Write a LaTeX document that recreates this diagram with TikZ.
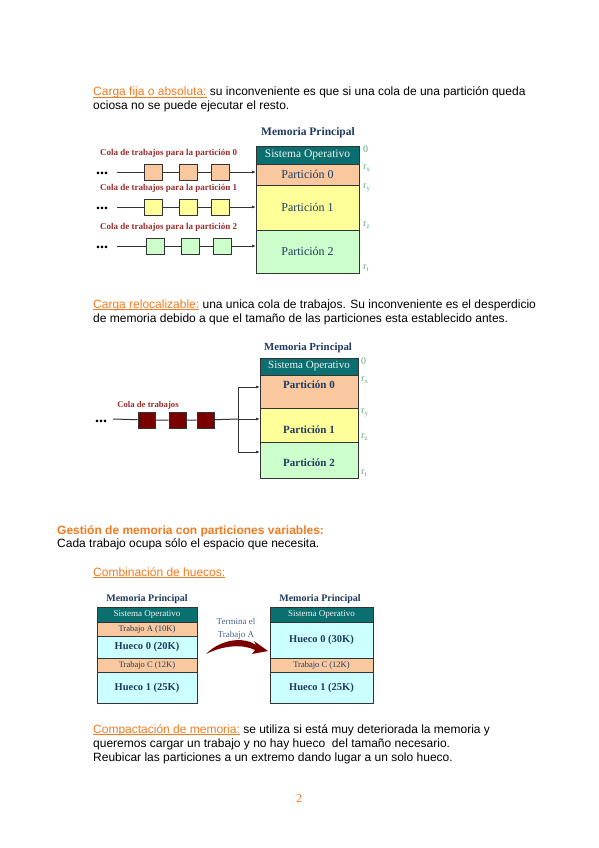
\documentclass[tikz,border=0pt]{standalone}
\usepackage{fontspec}
\setmainfont{Liberation Sans}
\newfontfamily\tnr{Liberation Serif}
\usepackage{xcolor}
\definecolor{cOrange}{HTML}{F47A1F}
\definecolor{cNavy}{HTML}{1F3A60}
\definecolor{cTeal}{HTML}{0C6F6F}
\definecolor{cSoText}{HTML}{EEF4F4}
\definecolor{cOrangeFill}{HTML}{FAC89E}
\definecolor{cYellowFill}{HTML}{FFFF99}
\definecolor{cGreenFill}{HTML}{CCFFCC}
\definecolor{cCyanFill}{HTML}{CCFFFF}
\definecolor{cRedText}{HTML}{9B2C2C}
\definecolor{cMaroon}{HTML}{7A0000}
\definecolor{cAddr}{HTML}{5DAA7A}
\definecolor{cSlate}{HTML}{4A6587}
\definecolor{cLine}{HTML}{333333}
\usepackage{tikz}
\usetikzlibrary{positioning,arrows.meta,calc}
\tikzset{
  page-text/.style={anchor=base west,inner sep=0,font=\fontsize{12}{14}\selectfont},
  page-head/.style={page-text,text=cOrange,font=\fontsize{12}{14}\selectfont\bfseries},
  mem-title/.style={inner sep=0,text=cNavy,font=\tnr\bfseries\fontsize{11.5}{12}\selectfont},
  mem-cell/.style={draw=cLine,line width=0.8pt,inner sep=0,outer sep=0,anchor=north west,
    text=cNavy,font=\tnr\fontsize{12}{12}\selectfont},
  mem-so/.style={mem-cell,fill=cTeal,text=cSoText},
  addr-lbl/.style={anchor=west,inner sep=0,text=cAddr,font=\tnr\fontsize{10}{10}\selectfont},
  queue-lbl/.style={anchor=west,inner sep=0,text=cRedText,font=\tnr\bfseries\fontsize{9}{9}\selectfont},
  job-box/.style={draw=cLine,line width=0.6pt,minimum width=18pt,minimum height=16pt,inner sep=0},
  queue-line/.style={draw=cLine,line width=1pt},
  arrow/.style={-{Latex[length=4pt,width=3pt]},line width=1pt,draw=cLine},
  dots/.style={anchor=base west,inner sep=0,font=\tnr\bfseries\fontsize{16}{16}\selectfont},
}
\newcommand{\rsub}[1]{r\textsubscript{#1}}
\newcommand{\hilite}[1]{{\color{cOrange}\underline{\smash{#1}}}}

\begin{document}
\begin{tikzpicture}[x=1pt,y=-1pt]
  \useasboundingbox[fill=white] (0,0) rectangle (599,848);

  % carga fija
  \node[page-text] (t1a) at (93,96) {\hilite{Carga fija o absoluta:} su inconveniente es que si una cola de una partición queda};
  \node[page-text] (t1b) at (93,110) {ociosa no se puede ejecutar el resto.};

  \node[mem-title] (d1title) at (308,133) {Memoria Principal};
  \node[mem-so,minimum width=103pt,minimum height=18pt,font=\tnr\fontsize{11.5}{12}\selectfont] (d1so) at (256,146) {Sistema Operativo};
  \foreach \nm/\top/\h/\fc/\txt in {p0/164/21/cOrangeFill/Partición 0,
      p1/185/45/cYellowFill/Partición 1, p2/230/43/cGreenFill/Partición 2}
    \node[mem-cell,fill=\fc,minimum width=103pt,minimum height=\h pt] (d1\nm) at (256,\top) {\txt};
  \foreach \y/\txt [count=\i] in {149/0, 168/\rsub{x}, 188/\rsub{y}, 225/\rsub{z}, 268/\rsub{t}}
    \node[addr-lbl] (d1a\i) at (363,\y) {\txt};

  \foreach \row/\yy/\fc/\dx in {0/172/cOrangeFill/0, 1/207/cYellowFill/0, 2/246/cGreenFill/2} {
    \node[queue-lbl] (q\row-lbl) at (100,\yy-18.5) {Cola de trabajos para la partición \row};
    \node[dots] (q\row-dots) at (96,\yy+2) {...};
    \coordinate (q\row-start) at (117,\yy);
    \node[job-box,fill=\fc] (q\row-b1) at (153+\dx,\yy) {};
    \node[job-box,fill=\fc] (q\row-b2) at (188+\dx,\yy) {};
    \node[job-box,fill=\fc] (q\row-b3) at (220+\dx,\yy) {};
    \draw[queue-line] (q\row-start) -- (q\row-b1) -- (q\row-b2) -- (q\row-b3);
    \draw[arrow] (q\row-b3) -- (q\row-b3 -| d1p\row.west);
  }

  % carga relocalizable
  \node[page-text] (t2a) at (93,308) {\hilite{Carga relocalizable:} una unica cola de trabajos. Su inconveniente es el desperdicio};
  \node[page-text] (t2b) at (93,322) {de memoria debido a que el tamaño de las particiones esta establecido antes.};

  \node[mem-title,font=\tnr\bfseries\fontsize{10.8}{12}\selectfont] (d2title) at (308,348) {Memoria Principal};
  \node[mem-so,minimum width=98pt,minimum height=17pt,font=\tnr\fontsize{11}{12}\selectfont] (d2so) at (260,358) {Sistema Operativo};
  \foreach \nm/\top/\h/\fc in {p0/375/33/cOrangeFill, p1/408/34/cYellowFill, p2/442/36/cGreenFill}
    \node[mem-cell,fill=\fc,minimum width=98pt,minimum height=\h pt] (d2\nm) at (260,\top) {};
  \node[mem-title,font=\tnr\bfseries\fontsize{11}{12}\selectfont] (d2t0) at (309,385) {Partición 0};
  \node[mem-title,font=\tnr\bfseries\fontsize{11}{12}\selectfont] (d2t1) at (309,430) {Partición 1};
  \node[mem-title,font=\tnr\bfseries\fontsize{11}{12}\selectfont] (d2t2) at (309,463) {Partición 2};
  \foreach \y/\txt [count=\i] in {361/0, 380/\rsub{x}, 413/\rsub{y}, 437/\rsub{z}, 473/\rsub{t}}
    \node[addr-lbl] (d2a\i) at (361,\y) {\txt};

  \node[queue-lbl,anchor=center,font=\tnr\bfseries\fontsize{8.7}{9}\selectfont] (d2lbl) at (148,405) {Cola de trabajos};
  \node[dots] (d2dots) at (95,422) {...};
  \coordinate (d2start) at (113,419);
  \foreach \i/\xx in {1/146.5, 2/177.5, 3/205.5}
    \node[job-box,fill=cMaroon,minimum width=17pt] (d2j\i) at (\xx,420) {};
  \coordinate (d2fork) at (238,419);
  \coordinate (d2top) at (238,387);
  \coordinate (d2bot) at (238,452);
  \draw[queue-line] (d2start) -- (d2j1) -- (d2j2) -- (d2j3) -- (d2fork);
  \draw[queue-line] (d2top) -- (d2bot);
  \draw[arrow] (d2top) -- (d2top -| d2p0.west);
  \draw[arrow] (d2fork) -- (d2fork -| d2p1.west);
  \draw[arrow] (d2bot) -- (d2bot -| d2p2.west);

  % particiones variables
  \node[page-head] (t3a) at (57,534) {Gestión de memoria con particiones variables:};
  \node[page-text] (t3b) at (57,547) {Cada trabajo ocupa sólo el espacio que necesita.};
  \node[page-text] (t3c) at (93,576) {\hilite{Combinación de huecos:}};

  \node[mem-title,font=\tnr\bfseries\fontsize{10}{12}\selectfont] (d3title) at (147,599) {Memoria Principal};
  \node[mem-title,font=\tnr\bfseries\fontsize{10}{12}\selectfont] (d4title) at (320,599) {Memoria Principal};
  \node[mem-so,minimum width=100pt,minimum height=15pt,font=\tnr\fontsize{9}{12}\selectfont] (d3so) at (97,607) {Sistema Operativo};
  \foreach \nm/\top/\h/\fc/\txt/\fs in {a/622/14/cOrangeFill/Trabajo A (10K)/8.5,
      h0/636/22/cCyanFill/\bfseries Hueco 0 (20K)/10.5, c/658/14/cOrangeFill/Trabajo C (12K)/8.5,
      h1/672/31/cCyanFill/\bfseries Hueco 1 (25K)/10.5}
    \node[mem-cell,fill=\fc,minimum width=100pt,minimum height=\h pt,font=\tnr\fontsize{\fs}{12}\selectfont] (d3\nm) at (97,\top) {\txt};
  \node[mem-so,minimum width=103pt,minimum height=15pt,font=\tnr\fontsize{9}{12}\selectfont] (d4so) at (270,607) {Sistema Operativo};
  \foreach \nm/\top/\h/\fc/\txt/\fs in {h0/622/36/cCyanFill/\bfseries Hueco 0 (30K)/10.5,
      c/658/14/cOrangeFill/Trabajo C (12K)/8.5, h1/672/31/cCyanFill/\bfseries Hueco 1 (25K)/10.5}
    \node[mem-cell,fill=\fc,minimum width=103pt,minimum height=\h pt,font=\tnr\fontsize{\fs}{12}\selectfont] (d4\nm) at (270,\top) {\txt};

  \node[inner sep=0,text=cSlate,align=center,font=\tnr\fontsize{9}{13}\selectfont] (d3lbl) at (236,628.5) {Termina el\\Trabajo A};
  \fill[cMaroon] (206,654) .. controls (222,638) and (245,637) .. (256,645) -- (254,641) -- (268,651)
    -- (252,654) -- (255,650) .. controls (243,644) and (224,645) .. (206,654) -- cycle;

  % compactacion
  \node[page-text] (t4a) at (93,733) {\hilite{Compactación de memoria:} se utiliza si está muy deteriorada la memoria y};
  \node[page-text] (t4b) at (93,747) {queremos cargar un trabajo y no hay hueco\ \ del tamaño necesario.};
  \node[page-text] (t4c) at (93,761) {Reubicar las particiones a un extremo dando lugar a un solo hueco.};

  \node[page-text,anchor=base,text=cOrange,font=\tnr\fontsize{12}{14}\selectfont] (pnum) at (299,802) {2};
\end{tikzpicture}
\end{document}
